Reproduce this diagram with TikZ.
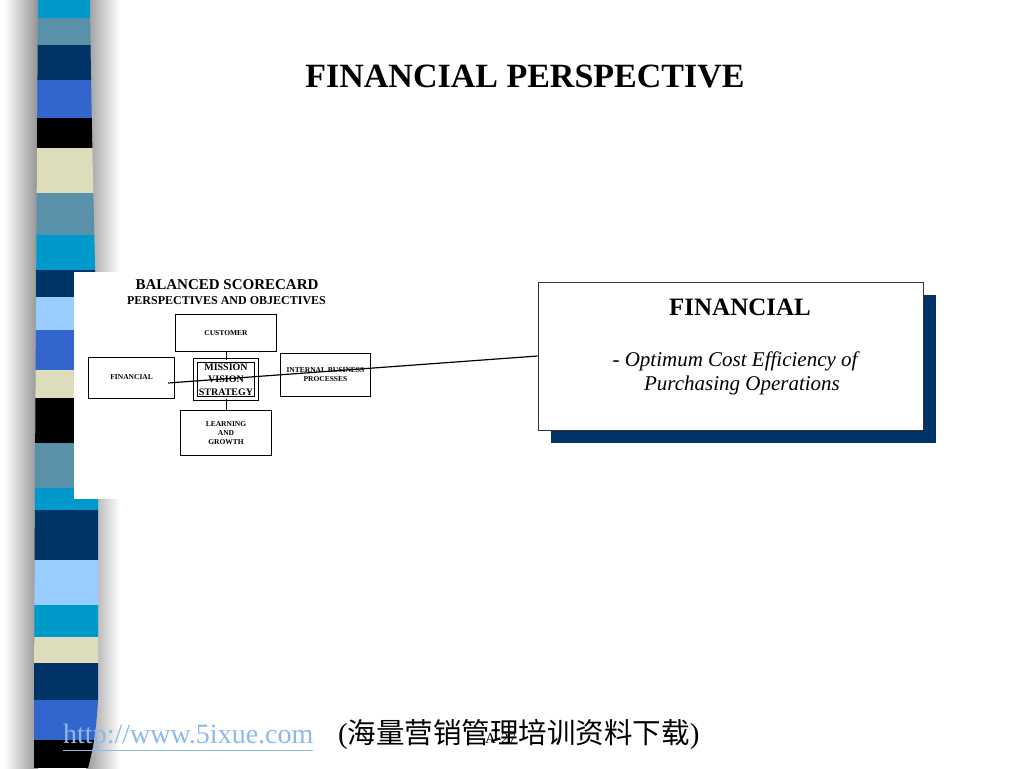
\documentclass[tikz,border=0pt]{standalone}
\usepackage{fontspec}
\setmainfont{Liberation Serif}
\newfontfamily\cjk{Noto Sans CJK SC}
\usetikzlibrary{positioning, shadows, calc}

\definecolor{stripecyan}{RGB}{0,153,204}
\definecolor{stripesteel}{RGB}{90,145,170}
\definecolor{stripenavy}{RGB}{0,51,102}
\definecolor{striperoyal}{RGB}{51,102,204}
\definecolor{stripebeige}{RGB}{221,221,187}
\definecolor{stripelight}{RGB}{153,204,255}
\definecolor{urlblue}{RGB}{140,185,235}

\begin{document}
\begin{tikzpicture}[
    x=1pt, y=-1pt,
    persp/.style={rectangle, draw, line width=0.8pt, fill=white, align=center, inner sep=1pt, font=\fontsize{7.5}{9}\selectfont\bfseries},
    core/.style={rectangle, draw, double, double distance=2.2pt, line width=1pt, fill=white, minimum width=61pt, minimum height=38pt, inner sep=0pt, align=center, font=\fontsize{10}{12.5}\selectfont\bfseries},
    panel/.style={rectangle, draw=black!80, line width=0.8pt, fill=white, minimum width=385pt, minimum height=148pt, drop shadow={shadow xshift=13pt, shadow yshift=-13pt, fill=stripenavy, opacity=1}},
    link/.style={line width=0.8pt},
    pointer/.style={line width=1.2pt}
]
\useasboundingbox (0,0) rectangle (1024,768);

% Left stripe bar with its shading
\shade[left color=white, right color=gray!85] (4,0) rectangle (38,768);
\shade[left color=gray!80, right color=white] (86,0) rectangle (120,768);
\begin{scope}
    \clip (38,0) -- (90,0) .. controls (92,200) and (99,350) .. (98,520) -- (98,700)
        .. controls (96,740) and (90,760) .. (88,768) -- (34,768) .. controls (34,600) and (36,300) .. (38,0) -- cycle;
    \foreach \ya/\yb/\col in {0/18/stripecyan, 18/45/stripesteel, 45/80/stripenavy, 80/118/striperoyal,
        118/148/black, 148/193/stripebeige, 193/235/stripesteel, 235/270/stripecyan, 270/297/stripenavy,
        297/330/stripelight, 330/370/striperoyal, 370/398/stripebeige, 398/443/black, 443/488/stripesteel,
        488/510/stripecyan, 510/560/stripenavy, 560/605/stripelight, 605/637/stripecyan, 637/663/stripebeige,
        663/700/stripenavy, 700/740/striperoyal, 740/768/black}
        \fill[\col] (20,\ya) rectangle (110,\yb);
\end{scope}

% Title
\node[font=\fontsize{34}{40}\selectfont\bfseries, anchor=base] (title) at (525,87) {FINANCIAL PERSPECTIVE};

% Balanced scorecard picture
\fill[white] (74,272) rectangle (420,499);
\node[font=\fontsize{15}{18}\selectfont\bfseries] (bsc) at (227,285) {BALANCED SCORECARD};
\node[font=\fontsize{12}{14}\selectfont\bfseries] (bscsub) at (226.5,301) {PERSPECTIVES AND OBJECTIVES};

\node[core] (mission) at (226,379.5) {MISSION\\VISION\\STRATEGY};
\node[persp, minimum width=101pt, minimum height=37pt, above=8pt of mission] (customer) {CUSTOMER};
\node[persp, minimum width=91pt, minimum height=45pt, below=11pt of mission] (learning) {LEARNING\\AND\\GROWTH};
\node[persp, minimum width=86pt, minimum height=41pt, left=20pt of mission, yshift=2pt] (financial) {FINANCIAL};
\node[persp, minimum width=90pt, minimum height=43pt, right=23pt of mission, yshift=5pt] (internal) {INTERNAL BUSINESS\\PROCESSES};

\draw[link] (customer) -- (mission);
\draw[link] (mission) -- (learning);
\draw[link] ($(mission.east)+(0,-1.5)$) -- ($(mission.east)+(0,-1.5)$ -| internal.west);

% Financial objective box
\node[panel] (big) at (730.5,356) {};
\node[font=\fontsize{25}{30}\selectfont\bfseries] (fintitle) at (740,307) {FINANCIAL};
\node[font=\fontsize{21}{24}\selectfont\itshape, align=center] (finbody) at (735,373) {- Optimum Cost Efficiency of\\\hspace*{14pt}Purchasing Operations};

\coordinate (finpt) at (168,383);
\draw[pointer] (finpt) -- (big.west);

% Footer
\node[font=\fontsize{28}{32}\selectfont, text=urlblue, anchor=base west, inner sep=0pt] (url) at (63,743) {\underline{http://www.5ixue.com}};
\node[font=\fontsize{15}{18}\selectfont, anchor=base west, inner sep=0pt] (pageno) at (485,743) {A-27};
\node[font=\fontsize{29}{34}\selectfont, anchor=base west, inner sep=0pt] (note) at (338,743) {({\cjk\fontsize{28.5}{34}\selectfont 海量营销管理培训资料下载})};

\end{tikzpicture}
\end{document}
